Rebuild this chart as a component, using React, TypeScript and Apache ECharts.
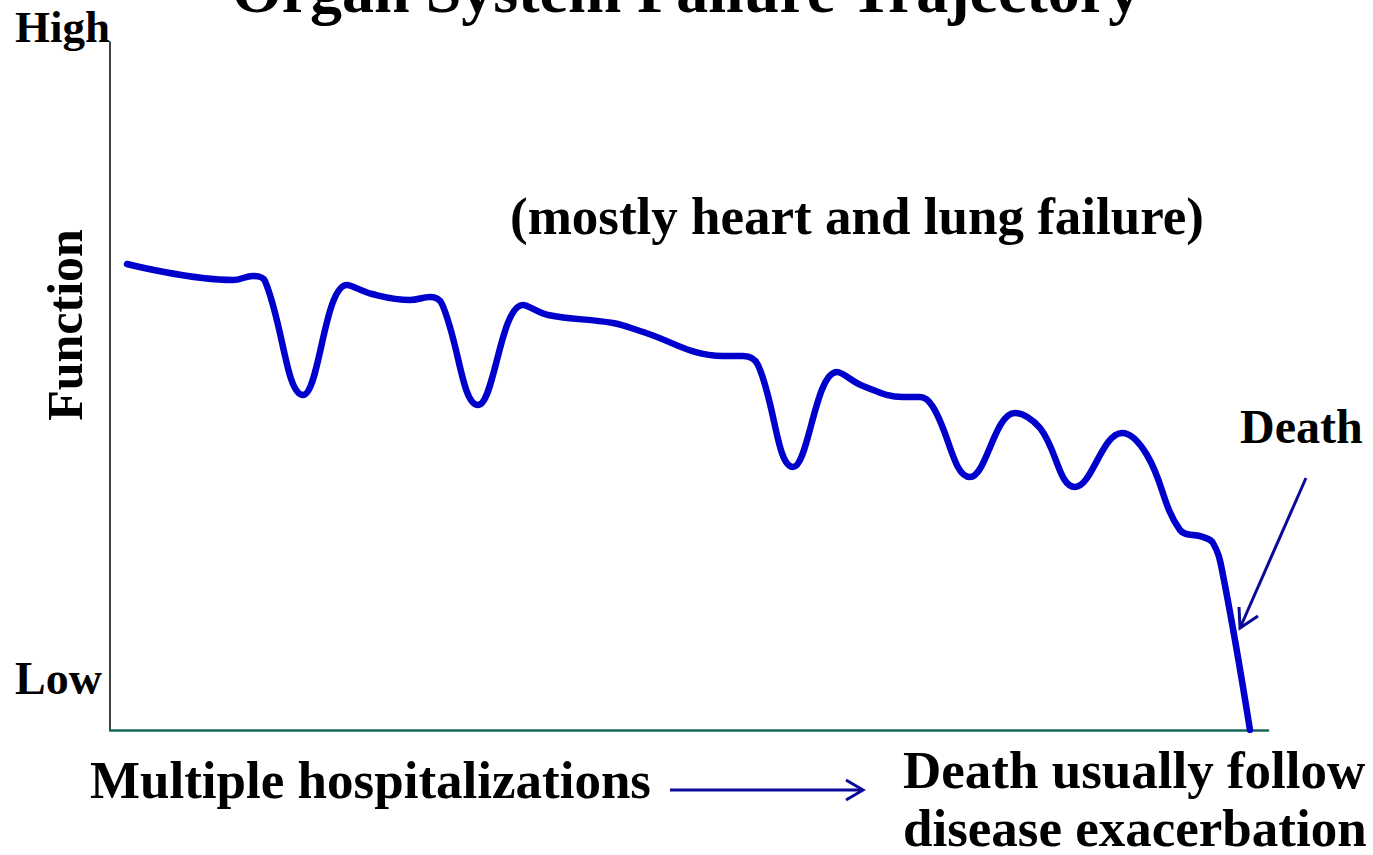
import React, { useEffect, useRef } from "react";
import * as echarts from "echarts";

// Time (x) and function level (y)
const timeValues = [17, 123, 143, 155, 193, 237, 262, 300, 320, 332, 368, 413, 438, 503, 530, 613, 633, 648, 683, 727, 753, 793, 810, 823, 860, 905, 930, 965, 1012, 1037, 1070, 1093, 1103, 1112, 1140];
const functionValues = [466, 450, 454, 449, 335, 445, 436, 430, 433, 426, 325, 425, 415, 407, 399, 374, 374, 365, 263, 358, 344, 333, 333, 323, 253, 317, 302, 243, 297, 275, 200, 193, 187, 160, 0];

const xMax = 1158;
const yMax = 688;

const titleText = "Organ System Failure Trajectory";
const subtitleText = "(mostly heart and lung failure)";
const highLabel = "High";
const lowLabel = "Low";
const yAxisName = "Function";
const xAxisName = "Multiple hospitalizations";
const deathLabel = "Death";
const noteLines = ["Death usually follow", "disease exacerbation"];

const FONT = "'Liberation Serif', 'Times New Roman', serif";

function txt(text: string, x: number, y: number, size: number, align: string = "left", extra: any = {}) {
  return {
    type: "text",
    x,
    y,
    ...extra,
    style: {
      text,
      fill: "#000",
      font: `bold ${size}px ${FONT}`,
      textAlign: align,
      textVerticalAlign: "middle",
      lineHeight: size,
    },
  };
}

export default function App() {
  const ref = useRef<HTMLDivElement>(null);
  useEffect(() => {
    if (!ref.current) return;
    const chart = echarts.init(ref.current, undefined, { renderer: "svg" });
    const arrowStyle = { stroke: "#0a0a99", lineWidth: 3, fill: "none" };
    chart.setOption({
      animation: false,
      grid: { left: 110, right: 105, top: 42, bottom: 125 },
      xAxis: {
        type: "value",
        min: 0,
        max: xMax,
        axisLine: { show: true, lineStyle: { color: "#17685a", width: 2.5 } },
        axisTick: { show: false },
        axisLabel: { show: false },
        splitLine: { show: false },
      },
      yAxis: {
        type: "value",
        min: 0,
        max: yMax,
        axisLine: { show: true, lineStyle: { color: "#000", width: 1.5 } },
        axisTick: { show: false },
        axisLabel: { show: false },
        splitLine: { show: false },
      },
      series: [
        {
          type: "line",
          data: timeValues.map((t, i) => [t, functionValues[i]]),
          smooth: 0.4,
          showSymbol: false,
          lineStyle: { color: "#0000cc", width: 6.5, cap: "round", join: "round" },
        },
      ],
      graphic: [
        txt(titleText, 686, -10, 64, "center"),
        txt(highLabel, 15, 27, 45),
        txt(lowLabel, 15, 678, 46),
        txt(yAxisName, 65, 325, 50, "center", { rotation: Math.PI / 2 }),
        txt(subtitleText, 857, 216, 53, "center"),
        txt(deathLabel, 1240, 426, 48),
        txt(xAxisName, 90, 780, 53),
        txt(noteLines[0], 903, 770, 53),
        txt(noteLines[1], 903, 828, 53),
        { type: "polyline", shape: { points: [[670, 790], [863, 790]] }, style: arrowStyle },
        { type: "polyline", shape: { points: [[846, 780], [863, 790], [846, 800]] }, style: arrowStyle },
        { type: "polyline", shape: { points: [[1306, 478], [1240, 628]] }, style: arrowStyle },
        { type: "polyline", shape: { points: [[1239, 607], [1240, 628], [1258, 616]] }, style: arrowStyle },
      ],
    });
    return () => chart.dispose();
  }, []);
  return (
    <div
      ref={ref}
      style={{ position: "fixed", left: 0, top: 0, width: 1373, height: 855, background: "#fff" }}
    />
  );
}
